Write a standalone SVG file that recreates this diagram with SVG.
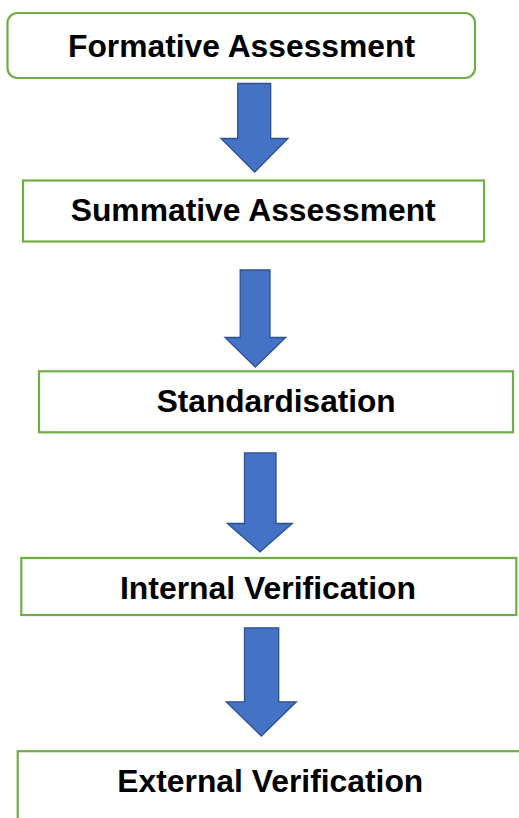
<svg xmlns="http://www.w3.org/2000/svg" width="519" height="818" viewBox="0 0 519 818">
  <style>
    .box { fill: #ffffff; stroke: #70AD47; stroke-width: 2.2; }
    .label { font-family: "Liberation Sans", Arial, sans-serif; font-weight: bold; font-size: 31px; fill: #000000; }
    .arrow { fill: #4472C4; stroke: #2F528F; stroke-width: 1.3; stroke-linejoin: miter; }
  </style>
  <rect width="519" height="818" fill="#ffffff"/>

  <g id="connectors">
    <!-- block arrows: shaft then triangular head -->
    <path class="arrow" d="M237.7,83.5 H270.7 V138.5 H288 L254.7,172 L221,138.5 H237.7 Z"/>
    <path class="arrow" d="M240.2,270 H270 V337.5 H285.7 L255.3,367 L225,337.5 H240.2 Z"/>
    <path class="arrow" d="M244.5,452.8 H276 V523.5 H292.3 L260,551.8 L227.3,523.5 H244.5 Z"/>
    <path class="arrow" d="M244.5,627.8 H278.7 V701.8 H296.3 L261.3,736 L226.3,701.8 H244.5 Z"/>
  </g>

  <g id="formative">
    <rect class="box" x="7.5" y="13" width="467.5" height="65" rx="10" ry="10"/>
    <text class="label" x="68" y="56.5" textLength="347" lengthAdjust="spacingAndGlyphs">Formative Assessment</text>
  </g>

  <g id="summative">
    <rect class="box" x="23" y="180.5" width="461" height="61"/>
    <text class="label" x="70.7" y="220.5" textLength="365" lengthAdjust="spacingAndGlyphs">Summative Assessment</text>
  </g>

  <g id="standardisation">
    <rect class="box" x="39" y="371.3" width="474" height="61"/>
    <text class="label" x="156.7" y="411.7" textLength="239" lengthAdjust="spacingAndGlyphs">Standardisation</text>
  </g>

  <g id="internal">
    <rect class="box" x="21.3" y="558" width="495" height="57"/>
    <text class="label" x="120" y="599.3" textLength="296" lengthAdjust="spacingAndGlyphs">Internal Verification</text>
  </g>

  <g id="external">
    <rect class="box" x="17.7" y="751.2" width="520" height="100"/>
    <text class="label" x="117.3" y="791.7" textLength="306" lengthAdjust="spacingAndGlyphs">External Verification</text>
  </g>
</svg>
